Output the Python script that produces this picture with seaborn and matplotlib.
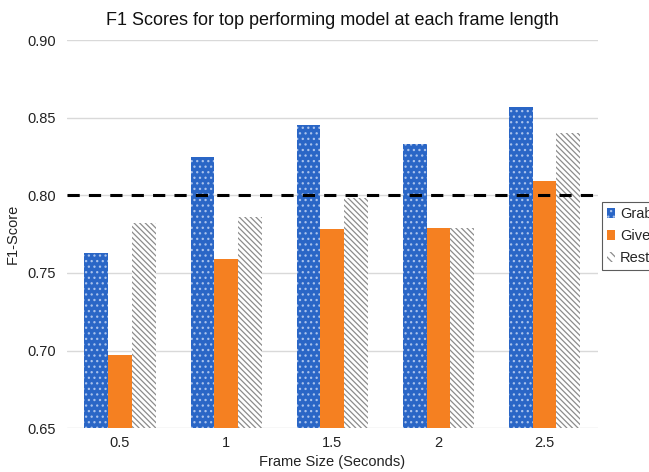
import matplotlib
matplotlib.use("Agg")
import matplotlib.pyplot as plt
import seaborn as sns
import pandas as pd
from matplotlib.patches import Patch

frame_sizes = ["0.5", "1", "1.5", "2", "2.5"]
grab = [0.763, 0.825, 0.845, 0.833, 0.857]
give = [0.697, 0.759, 0.778, 0.779, 0.809]
rest = [0.782, 0.786, 0.798, 0.779, 0.840]
series = ["Grab", "Give", "Rest"]
threshold = 0.80
y_ticks = [0.65, 0.70, 0.75, 0.80, 0.85, 0.90]

df = pd.DataFrame({
    "Frame Size": frame_sizes * 3,
    "F1": grab + give + rest,
    "Gesture": [s for s in series for _ in frame_sizes],
})

sns.set_theme(style="white")
plt.rcParams["font.family"] = ["Liberation Sans", "DejaVu Sans"]
plt.rcParams["hatch.linewidth"] = 0.9

fig = plt.figure(figsize=(6.49, 4.72), dpi=100)
ax = fig.add_axes([0.103, 0.093, 0.818, 0.822])

blue, orange, gray = "#2A66C6", "#F58021", "#8C8C8C"
palette = {"Grab": blue, "Give": orange, "Rest": "#FFFFFF"}
sns.barplot(data=df, x="Frame Size", y="F1", hue="Gesture", order=frame_sizes,
            hue_order=series, palette=palette, width=0.67, saturation=1,
            legend=False, ax=ax)

styles = {
    "Grab": dict(hatch="...", edgecolor="#A9C2EC"),
    "Give": dict(hatch=None, edgecolor=orange),
    "Rest": dict(hatch="\\\\\\\\\\\\", edgecolor=gray),
}
for name, cont in zip(series, ax.containers):
    for bar in cont:
        st = styles[name]
        bar.set_edgecolor(st["edgecolor"])
        bar.set_linewidth(0)
        if st["hatch"]:
            bar.set_hatch(st["hatch"])

ax.axhline(threshold, color="black", linestyle=(0, (4, 3)), linewidth=2.2, zorder=5)

ax.set_ylim(0.65, 0.90)
ax.set_yticks(y_ticks)
ax.set_yticklabels([f"{v:.2f}" for v in y_ticks])
ax.yaxis.grid(True, color="#D9D9D9", linewidth=1)
ax.set_axisbelow(True)
for sp in ax.spines.values():
    sp.set_visible(False)
ax.tick_params(axis="both", length=0, labelsize=10.5, colors="#222222")
ax.tick_params(axis="y", pad=8)
ax.tick_params(axis="x", pad=6)

ax.set_xlabel("Frame Size (Seconds)", fontsize=10.5, labelpad=3, color="#222222")
ax.set_ylabel("F1-Score", fontsize=10.5, labelpad=5, color="#222222")
ax.set_title("F1 Scores for top performing model at each frame length",
             fontsize=13, pad=11, color="#111111")

handles = [
    Patch(facecolor=blue, edgecolor="#A9C2EC", hatch="...", linewidth=0),
    Patch(facecolor=orange, edgecolor=orange, linewidth=0),
    Patch(facecolor="white", edgecolor=gray, hatch="\\\\\\\\", linewidth=0),
]
leg = fig.legend(handles, series, loc="upper left", bbox_to_anchor=(0.927, 0.572),
                 fontsize=10.5, frameon=True, fancybox=False, handlelength=0.6,
                 handleheight=0.6, handletextpad=0.3, labelspacing=0.55,
                 borderpad=0.35, borderaxespad=0)
leg.get_frame().set_edgecolor("#333333")
leg.get_frame().set_linewidth(0.8)

fig.savefig("out.png", dpi=100)
